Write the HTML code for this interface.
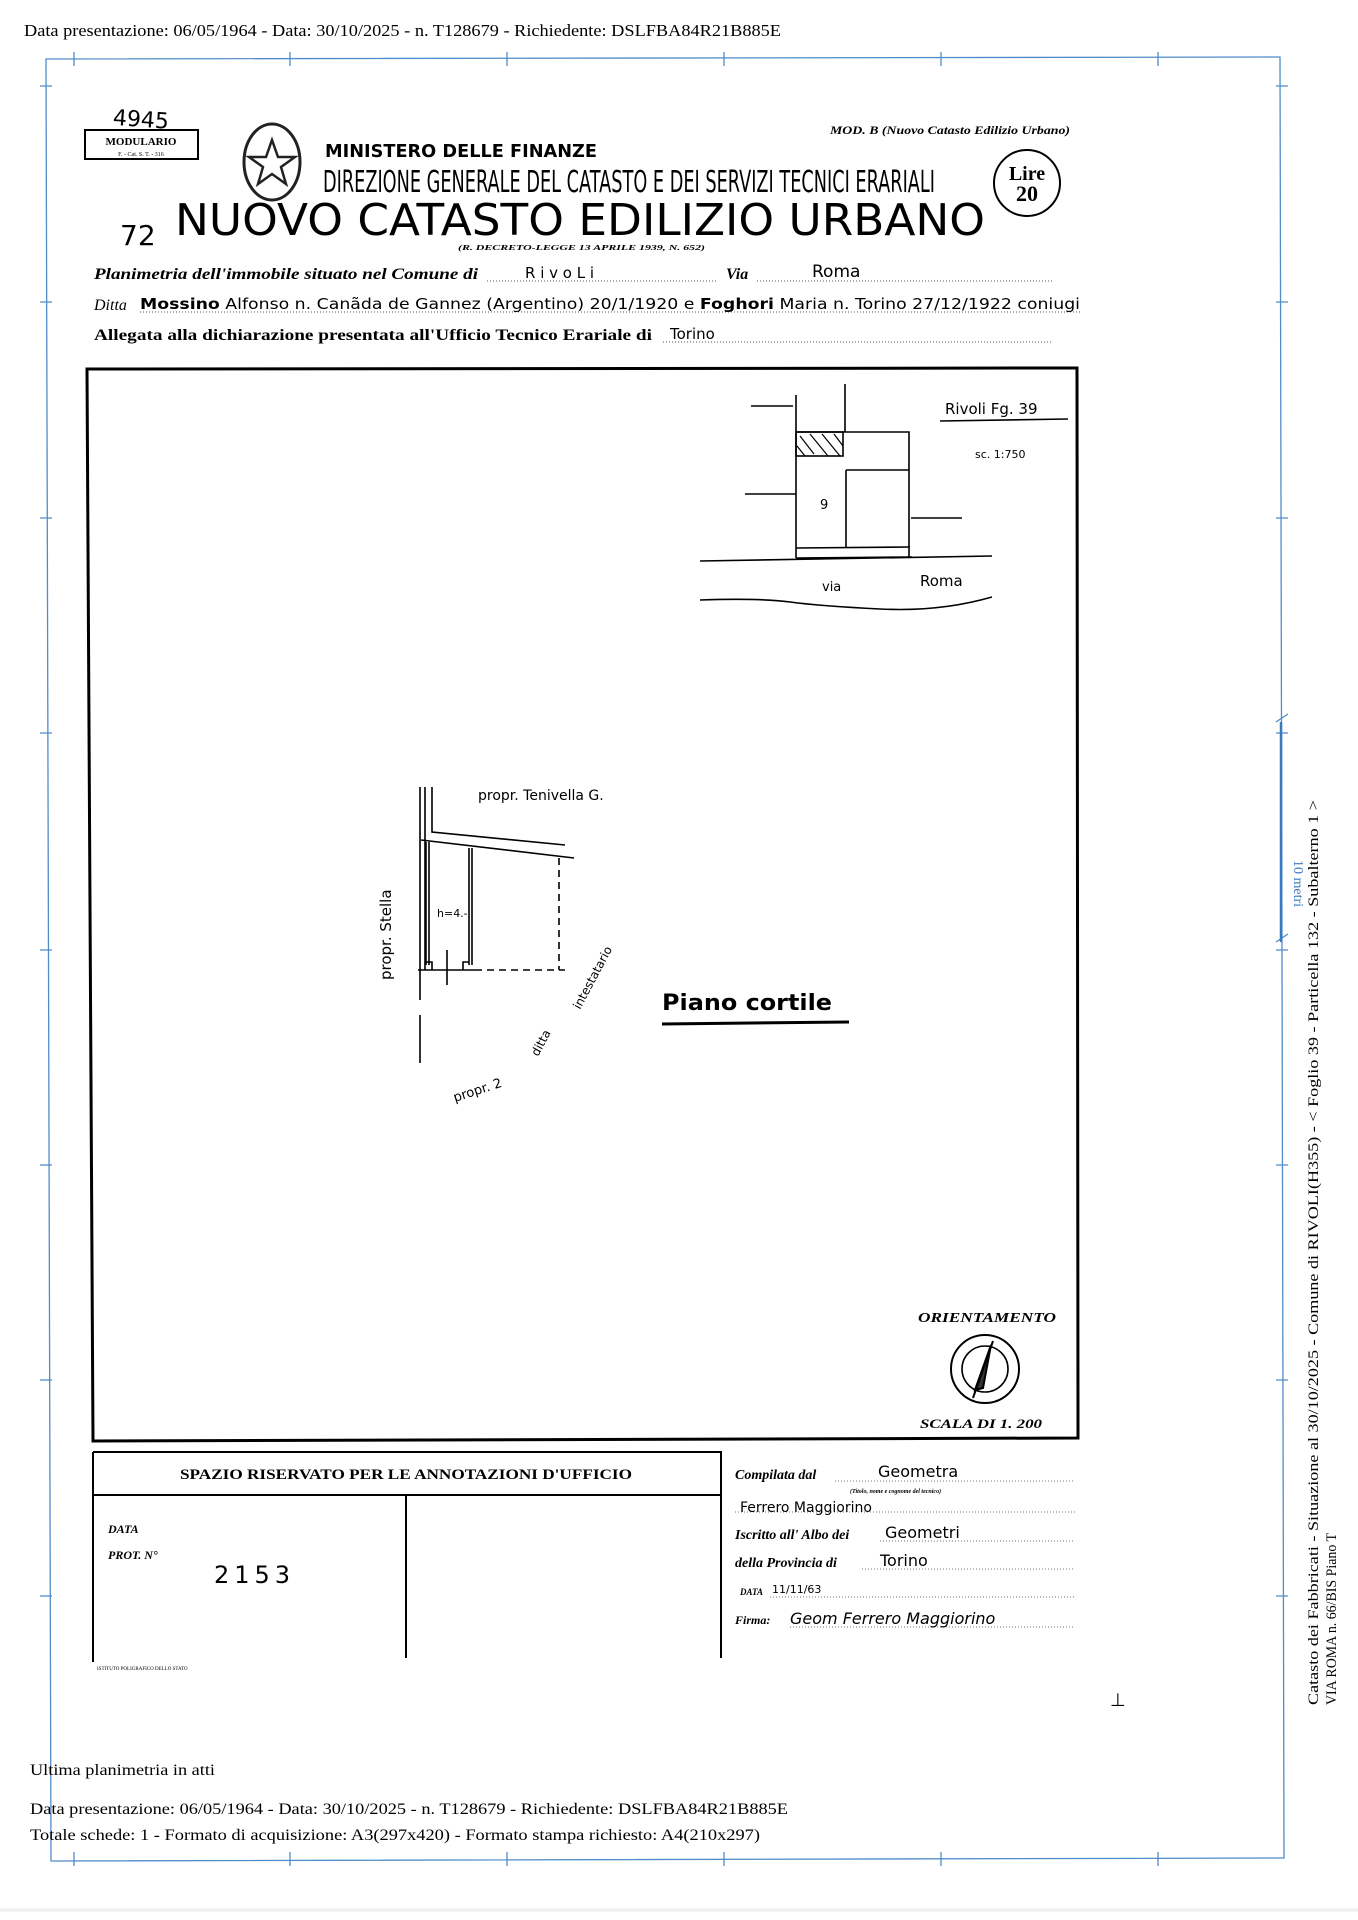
<!DOCTYPE html>
<html><head><meta charset="utf-8"><style>
html,body{margin:0;padding:0;background:#fff;}
svg{display:block;}
.s{font-family:"Liberation Serif",serif;}
.h{font-family:"DejaVu Sans",sans-serif;}
</style></head><body>
<svg width="1358" height="1920" viewBox="0 0 1358 1920" xmlns="http://www.w3.org/2000/svg">
<rect width="1358" height="1920" fill="#fff"/>
<!-- header -->
<text class="s" x="24" y="36" font-size="17" textLength="757" lengthAdjust="spacingAndGlyphs">Data presentazione: 06/05/1964 - Data: 30/10/2025 - n. T128679 - Richiedente: DSLFBA84R21B885E</text>
<!-- blue frame -->
<g stroke="#4f8cc9" stroke-width="1.3" fill="none">
<path d="M46 59 L1280 57 L1284 1858 L51 1861 Z"/>
<path d="M74 52v14M290 52v14M507 52v14M724 52v14M941 52v14M1158 52v14"/>
<path d="M74 1852v14M290 1852v14M507 1852v14M724 1852v14M941 1852v14M1158 1852v14"/>
<path d="M40 86h12M40 302h12M40 518h12M40 733h12M40 950h12M40 1165h12M40 1380h12M40 1596h12"/>
<path d="M1276 86h12M1276 302h12M1276 518h12M1276 733h12M1276 950h12M1276 1165h12M1276 1380h12M1276 1596h12"/>
<path d="M1276 722l12 -8M1276 942l12 -8"/>
</g>
<line x1="1281" y1="722" x2="1281" y2="942" stroke="#3a78c0" stroke-width="2.5"/>
<text class="s" x="0" y="0" font-size="14" fill="#3a78c0" transform="translate(1294,860) rotate(90)">10 metri</text>
<text class="s" x="0" y="0" font-size="15" transform="translate(1318,1705) rotate(-90)" textLength="905" lengthAdjust="spacingAndGlyphs">Catasto dei Fabbricati - Situazione al 30/10/2025 - Comune di RIVOLI(H355) - &lt; Foglio 39 - Particella 132 - Subalterno 1 &gt;</text>
<text class="s" x="0" y="0" font-size="15" transform="translate(1336,1705) rotate(-90)" textLength="172" lengthAdjust="spacingAndGlyphs">VIA ROMA n. 66/BIS Piano T</text>

<!-- top of form -->
<text class="h" x="113" y="126" font-size="22" transform="rotate(4 130 118)">4945</text>
<rect x="85" y="130" width="113" height="29" fill="none" stroke="#000" stroke-width="2"/>
<text class="s" x="141" y="145" font-size="11" font-weight="bold" text-anchor="middle">MODULARIO</text>
<text class="s" x="141" y="156" font-size="6" text-anchor="middle">F. - Cat. S. T. - 316</text>
<ellipse cx="272" cy="162" rx="28" ry="38" fill="none" stroke="#222" stroke-width="3"/>
<polygon points="272,140 278,157 295,157 281,167 286,184 272,174 258,184 263,167 249,157 266,157" fill="none" stroke="#222" stroke-width="2.5"/>
<text class="h" x="325" y="157" font-size="18" font-weight="bold" textLength="272" lengthAdjust="spacingAndGlyphs">MINISTERO DELLE FINANZE</text>
<text class="h" x="323" y="192" font-size="30" textLength="612" lengthAdjust="spacingAndGlyphs">DIREZIONE GENERALE DEL CATASTO E DEI SERVIZI TECNICI ERARIALI</text>
<text class="s" x="830" y="134" font-size="12" font-weight="bold" font-style="italic" textLength="240" lengthAdjust="spacingAndGlyphs">MOD. B (Nuovo Catasto Edilizio Urbano)</text>
<circle cx="1027" cy="183" r="33" fill="none" stroke="#000" stroke-width="2"/>
<text class="s" x="1027" y="180" font-size="20" font-weight="bold" text-anchor="middle">Lire</text>
<text class="s" x="1027" y="201" font-size="22" font-weight="bold" text-anchor="middle">20</text>
<text class="h" x="120" y="245" font-size="28">72</text>
<text class="h" x="175" y="235" font-size="44" textLength="810" lengthAdjust="spacingAndGlyphs">NUOVO CATASTO EDILIZIO URBANO</text>
<text class="s" x="458" y="250" font-size="7" font-style="italic" font-weight="bold" textLength="247" lengthAdjust="spacingAndGlyphs">(R. DECRETO-LEGGE 13 APRILE 1939, N. 652)</text>
<g class="s" font-style="italic" font-weight="bold" font-size="16">
<text x="94" y="279" textLength="384" lengthAdjust="spacingAndGlyphs">Planimetria dell'immobile situato nel Comune di</text>
<text x="726" y="279">Via</text>
<text x="94" y="310" font-weight="normal">Ditta</text>
<text x="94" y="340" font-style="normal" textLength="558" lengthAdjust="spacingAndGlyphs">Allegata alla dichiarazione presentata all'Ufficio Tecnico Erariale di</text>
</g>
<g stroke="#555" stroke-width="1" stroke-dasharray="1 2">
<path d="M487 281H718M757 281H1052M140 312H1080M663 342H1052"/>
</g>
<g class="h" font-size="15">
<text x="525" y="278">R i v o L i</text>
<text x="812" y="277" font-size="17">Roma</text>
<text x="140" y="309" font-size="15" textLength="940" lengthAdjust="spacingAndGlyphs"><tspan font-weight="bold">Mossino</tspan> Alfonso n. Canãda de Gannez (Argentino) 20/1/1920 e <tspan font-weight="bold">Foghori</tspan> Maria n. Torino 27/12/1922 coniugi</text>
<text x="670" y="339">Torino</text>
</g>

<!-- main box -->
<path d="M87 369 L1077 368 L1078 1438 L93 1441 Z" fill="none" stroke="#000" stroke-width="3"/>

<!-- inset map -->
<g stroke="#000" stroke-width="1.6" fill="none">
<path d="M751 406H793M796 395V558M845 384V432M796 432H909V558M846 470H909M846 470V548M796 548L910 547M796 558L912 557M745 494H796M911 518H962"/>
<path d="M700 561L992 556"/>
<path d="M700 600 Q760 598 790 602 T880 609 T992 597"/>
<rect x="796" y="432" width="47" height="24"/>
<path d="M800 436l14 18M810 434l18 22M822 434l18 22M834 434l9 12M797 446l8 10" stroke-width="1.2"/>
<path d="M940 421L1068 419"/>
</g>
<g class="h" font-size="13">
<text x="820" y="509">9</text>
<text x="822" y="591">via</text>
<text x="920" y="586" font-size="15">Roma</text>
<text x="945" y="414" font-size="15">Rivoli  Fg. 39</text>
<text x="975" y="458" font-size="11">sc. 1:750</text>
</g>

<!-- ground plan -->
<g stroke="#000" stroke-width="1.6" fill="none">
<path d="M420 787V1000M420 1015V1063M425 787V970"/>
<path d="M432 787V832L565 845"/>
<path d="M421 840L574 858"/>
<path d="M426 842V965M429 842V965M469 848V965M472 848V965"/>
<path d="M418 970H475"/>
<path d="M475 970H565M559 858V970" stroke-dasharray="7 5"/>
<path d="M447 950V985M426 962h6v8M469 962h-6v8"/>
</g>
<g class="h" font-size="14">
<text x="478" y="800">propr. Tenivella  G.</text>
<text x="0" y="0" transform="translate(391,980) rotate(-90)" font-size="15">propr.   Stella</text>
<text x="437" y="917" font-size="11">h=4.-</text>
<text x="0" y="0" transform="translate(580,1010) rotate(-62)" font-size="12">intestatario</text>
<text x="0" y="0" transform="translate(538,1057) rotate(-62)" font-size="12">ditta</text>
<text x="0" y="0" transform="translate(455,1102) rotate(-18)" font-size="13">propr. 2</text>
<text x="662" y="1010" font-size="22" font-weight="bold" textLength="170" lengthAdjust="spacingAndGlyphs">Piano   cortile</text>
</g>
<line x1="662" y1="1024" x2="849" y2="1022" stroke="#000" stroke-width="3"/>

<!-- orientation -->
<text class="s" x="918" y="1322" font-size="14" font-style="italic" font-weight="bold" textLength="138" lengthAdjust="spacingAndGlyphs">ORIENTAMENTO</text>
<circle cx="985" cy="1369" r="34" fill="none" stroke="#000" stroke-width="2"/>
<circle cx="985" cy="1369" r="23" fill="none" stroke="#000" stroke-width="1.6"/>
<path d="M993 1341L973 1398M991 1345L975 1390L983 1388Z" stroke="#000" stroke-width="2" fill="#333"/>
<text class="s" x="920" y="1428" font-size="13" font-style="italic" font-weight="bold" textLength="122" lengthAdjust="spacingAndGlyphs">SCALA DI 1. 200</text>

<!-- bottom box -->
<g stroke="#000" stroke-width="2" fill="none">
<path d="M93 1452H721V1658M93 1452V1662M93 1495H721M406 1495V1658"/>
</g>
<text class="s" x="406" y="1479" font-size="15" font-weight="bold" text-anchor="middle" textLength="452" lengthAdjust="spacingAndGlyphs">SPAZIO RISERVATO PER LE ANNOTAZIONI D'UFFICIO</text>
<text class="s" x="108" y="1533" font-size="12" font-style="italic" font-weight="bold">DATA</text>
<text class="s" x="108" y="1559" font-size="12" font-style="italic" font-weight="bold">PROT. N°</text>
<text class="h" x="214" y="1583" font-size="24" letter-spacing="5">2153</text>
<text class="s" x="97" y="1670" font-size="5">ISTITUTO POLIGRAFICO DELLO STATO</text>

<g class="s" font-style="italic" font-weight="bold" font-size="14">
<text x="735" y="1479">Compilata dal</text>
<text x="735" y="1539">Iscritto all' Albo dei</text>
<text x="735" y="1567">della Provincia di</text>
<text x="740" y="1595" font-size="9">DATA</text>
<text x="735" y="1624" font-size="12">Firma:</text>
<text x="850" y="1493" font-size="6">(Titolo, nome e cognome del tecnico)</text>
</g>
<g stroke="#777" stroke-width="1" stroke-dasharray="1 2">
<path d="M835 1481H1075M735 1512H1075M880 1541H1075M862 1569H1075M770 1597H1075M790 1627H1075"/>
</g>
<g class="h" font-size="16">
<text x="878" y="1477">Geometra</text>
<text x="740" y="1512" font-size="14">Ferrero   Maggiorino</text>
<text x="885" y="1538">Geometri</text>
<text x="880" y="1566">Torino</text>
<text x="772" y="1593" font-size="11">11/11/63</text>
<text x="790" y="1624" font-size="16" font-style="italic">Geom Ferrero Maggiorino</text>
</g>
<text class="s" x="1110" y="1706" font-size="18">⊥</text>

<!-- footer -->
<g class="s" font-size="16">
<text x="30" y="1775" textLength="185" lengthAdjust="spacingAndGlyphs">Ultima planimetria in atti</text>
<text x="30" y="1814" textLength="758" lengthAdjust="spacingAndGlyphs">Data presentazione: 06/05/1964 - Data: 30/10/2025 - n. T128679 - Richiedente: DSLFBA84R21B885E</text>
<text x="30" y="1840" textLength="730" lengthAdjust="spacingAndGlyphs">Totale schede: 1 - Formato di acquisizione: A3(297x420)  - Formato stampa richiesto: A4(210x297)</text>
</g>
<line x1="0" y1="1910" x2="1358" y2="1910" stroke="#eee" stroke-width="3"/>
</svg>
</body></html>
